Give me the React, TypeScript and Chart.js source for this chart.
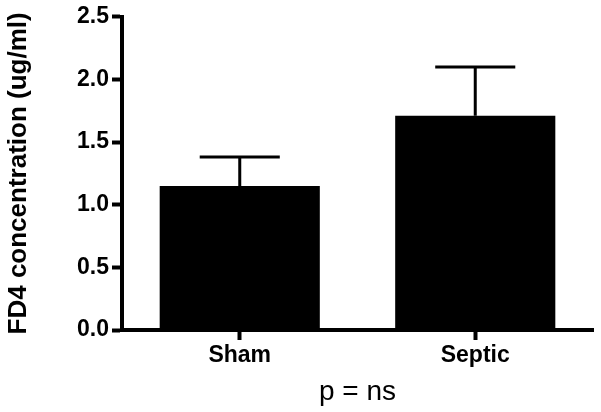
import React, { useEffect, useRef } from "react";
import { Chart, registerables } from "chart.js";

Chart.register(...registerables);

const categories = ["Sham", "Septic"];
const means = [1.15, 1.71];
const errorsUp = [0.23, 0.39];
const yTicks = [0, 0.5, 1.0, 1.5, 2.0, 2.5];
const yTitle = "FD4 concentration (ug/ml)";
const xTitle = "p = ns";

const FONT = "Arial, 'Liberation Sans', sans-serif";

const errorBarPlugin = {
  id: "errorBars",
  afterDatasetsDraw(chart: any) {
    const meta = chart.getDatasetMeta(0);
    const y = chart.scales.y;
    const ctx = chart.ctx;
    ctx.save();
    ctx.strokeStyle = "#000";
    ctx.lineWidth = 3;
    meta.data.forEach((bar: any, i: number) => {
      const top = y.getPixelForValue(means[i] + errorsUp[i]);
      const base = y.getPixelForValue(means[i]);
      const half = bar.width / 4;
      ctx.beginPath();
      ctx.moveTo(bar.x, base);
      ctx.lineTo(bar.x, top);
      ctx.moveTo(bar.x - half, top);
      ctx.lineTo(bar.x + half, top);
      ctx.stroke();
    });
    ctx.restore();
  },
};

export default function App() {
  const ref = useRef<HTMLCanvasElement>(null);
  useEffect(() => {
    document.body.style.margin = "0";
    const chart = new Chart(ref.current!, {
      type: "bar",
      data: {
        labels: categories,
        datasets: [
          {
            data: means,
            backgroundColor: "#000",
            borderWidth: 0,
            barPercentage: 0.68,
            categoryPercentage: 1.0,
          },
        ],
      },
      options: {
        responsive: false,
        animation: false,
        devicePixelRatio: 1,
        layout: { padding: { top: 15, right: 8, left: 0, bottom: 0 } },
        plugins: { legend: { display: false }, tooltip: { enabled: false } },
        scales: {
          x: {
            afterFit: (s: any) => {
              s.height = 82;
            },
            grid: {
              offset: false,
              drawOnChartArea: false,
              drawTicks: true,
              tickLength: 10,
              tickWidth: 4,
              tickColor: "#000",
              color: "#000",
            },
            border: { display: true, color: "#000", width: 4 },
            ticks: {
              color: "#000",
              padding: 2,
              font: { family: FONT, size: 23, weight: "bold" },
            },
            title: {
              display: true,
              text: xTitle,
              color: "#000",
              padding: { top: 0, bottom: 3 },
              font: { family: FONT, size: 28, weight: "normal" },
            },
          },
          y: {
            min: 0,
            max: 2.5,
            afterFit: (s: any) => {
              s.width = 122;
            },
            afterBuildTicks: (s: any) => {
              s.ticks = yTicks.map((v) => ({ value: v }));
            },
            grid: {
              drawOnChartArea: false,
              drawTicks: true,
              tickLength: 10,
              tickWidth: 4,
              tickColor: "#000",
              color: "#000",
            },
            border: { display: true, color: "#000", width: 4 },
            ticks: {
              color: "#000",
              padding: 3,
              font: { family: FONT, size: 23, weight: "bold" },
              callback: (v: any) => Number(v).toFixed(1),
            },
            title: {
              display: true,
              text: yTitle,
              color: "#000",
              padding: { top: 3, bottom: 0 },
              font: { family: FONT, size: 26, weight: "bold" },
            },
          },
        },
      },
      plugins: [errorBarPlugin],
    });
    return () => chart.destroy();
  }, []);
  return <canvas ref={ref} width={601} height={412} style={{ display: "block" }} />;
}
